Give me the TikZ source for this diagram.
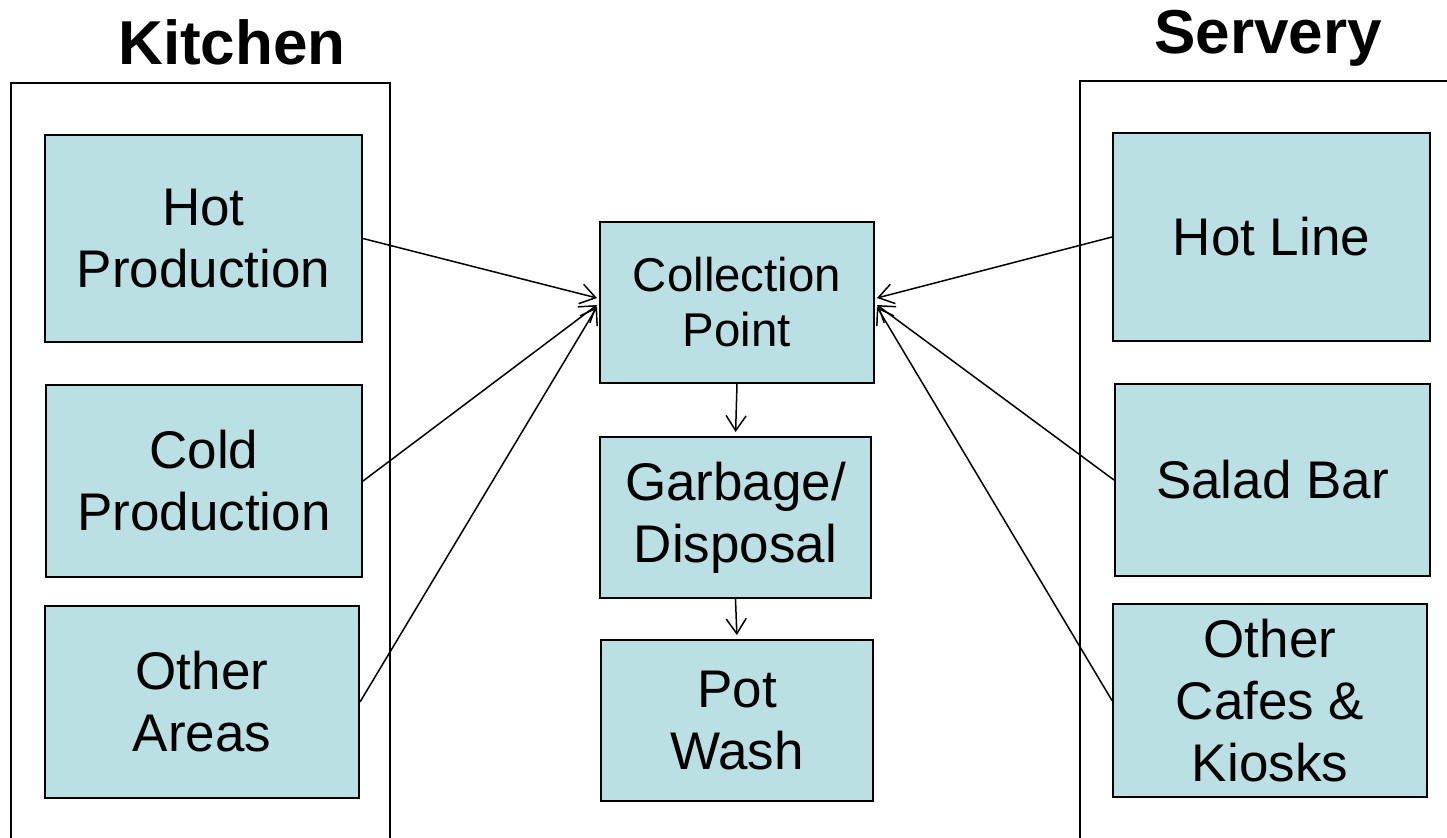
\documentclass[tikz,border=0pt]{standalone}
\usepackage{fontspec}
\setmainfont{Liberation Sans}
\usetikzlibrary{arrows.meta,calc}
\definecolor{boxfill}{HTML}{BBE0E3}
\begin{document}
\begin{tikzpicture}[x=0.5pt,y=-0.5pt,
  box/.style={draw=black,line width=1pt,fill=boxfill,inner sep=0pt,align=center,
    font=\fontsize{26.5}{31}\selectfont},
  midbox/.style={box,font=\fontsize{23.7}{27.5}\selectfont},
  title/.style={font=\fontsize{31}{36}\selectfont\bfseries,inner sep=0pt},
  frame/.style={draw=black,line width=1pt},
  flow/.style={draw=black,line width=0.75pt,-{Straight Barb[length=7.5pt,width=10pt]}}]
\useasboundingbox (0,0) rectangle (1447,837);
% containers
\draw[frame] (11,840) -- (11,83) -- (390,83) -- (390,840);
\draw[frame] (1080,840) -- (1080,81) -- (1450,81);
% titles
\node[title] (kt) at (232,42) {Kitchen};
\node[title] (st) at (1268,38) {Servery};
% kitchen boxes
\node[box,minimum width=158.5pt,minimum height=103.5pt] (hp) at (203.5,238.5) {Hot\\Production};
\node[box,minimum width=158pt,minimum height=96pt] (cp) at (204,481) {Cold\\Production};
\node[box,minimum width=157pt,minimum height=96pt] (oa) at (202,702) {Other\\Areas};
% middle
\node[midbox,minimum width=137pt,minimum height=80.5pt] (col) at (737,302.5) {Collection\\Point};
\node[box,minimum width=135.5pt,minimum height=80.5pt] (gar) at (735.5,517.5) {Garbage/\\Disposal};
\node[box,minimum width=136pt,minimum height=80.5pt] (pot) at (737,720.5) {Pot\\Wash};
% servery boxes
\node[box,minimum width=158.5pt,minimum height=104pt] (hl) at (1271.5,237) {Hot Line};
\node[box,minimum width=157.5pt,minimum height=96pt] (sb) at (1272.5,480) {Salad Bar};
\node[box,minimum width=157pt,minimum height=96.5pt] (oc) at (1270,700.5) {Other\\Cafes \&\\Kiosks};
% connectors
\draw[flow] (hp.east) -- ([yshift=2.25pt,xshift=-1pt]col.west);
\draw[flow] (cp.east) -- ([yshift=-1.25pt,xshift=-1pt]col.west);
\draw[flow] (oa.east) -- ([yshift=-2.25pt,xshift=-1pt]col.west);
\draw[flow] (hl.west) -- ([yshift=2.25pt,xshift=1pt]col.east);
\draw[flow] (sb.west) -- ([yshift=-1.25pt,xshift=1pt]col.east);
\draw[flow] (oc.west) -- ([yshift=-2.25pt,xshift=1pt]col.east);
\draw[flow,shorten >=2pt] (col.south) -- (gar.north);
\draw[flow,shorten >=2pt] (gar.south) -- (pot.north);
\end{tikzpicture}
\end{document}
